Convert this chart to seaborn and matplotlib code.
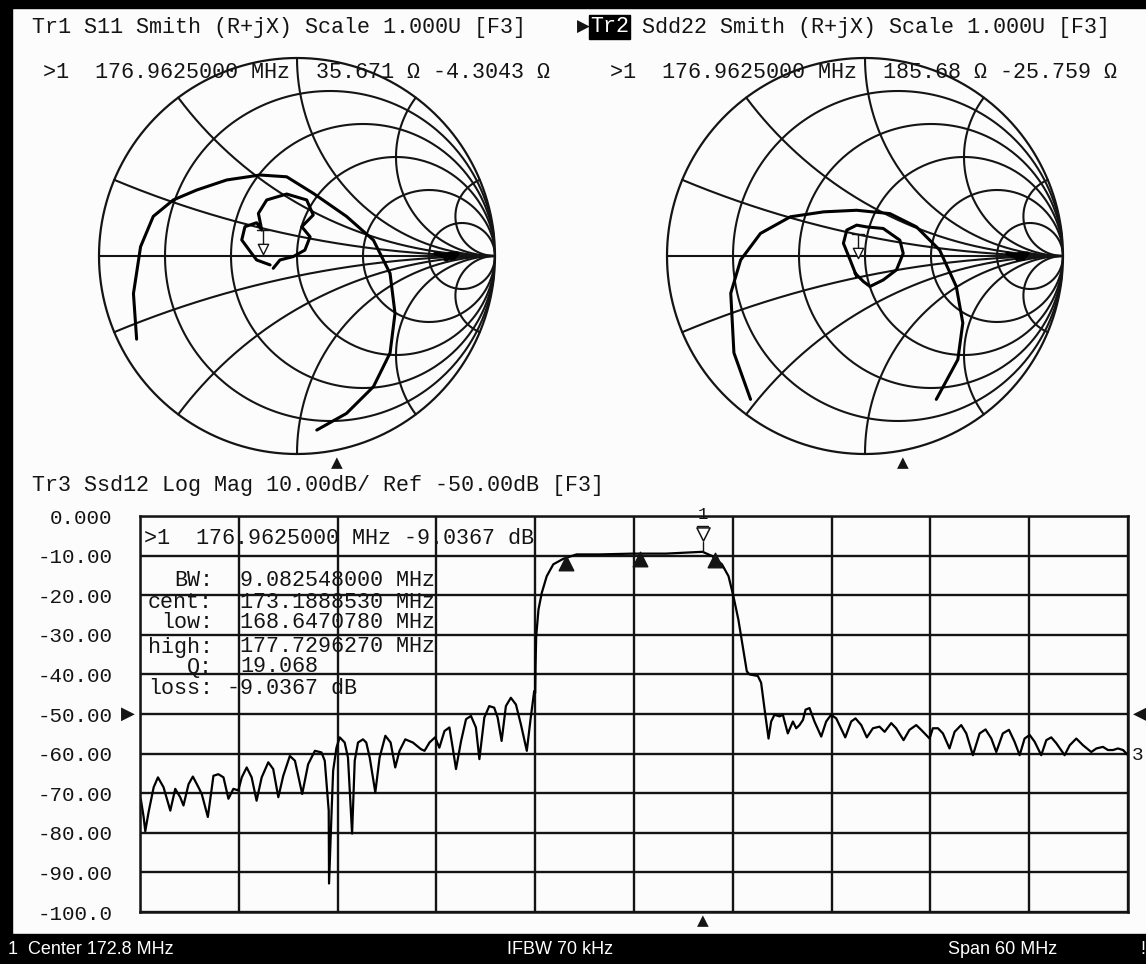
import numpy as np
import pandas as pd
import matplotlib
matplotlib.use("Agg")
import matplotlib.pyplot as plt
from matplotlib.patches import Rectangle
import seaborn as sns

# ---------------- data ----------------
center_mhz = 172.8
span_mhz = 60.0
ref_db = -50.0
db_ticks = [0, -10, -20, -30, -40, -50, -60, -70, -80, -90, -100]
db_tick_labels = ["0.000", "-10.00", "-20.00", "-30.00", "-40.00", "-50.00",
                  "-60.00", "-70.00", "-80.00", "-90.00", "-100.0"]

freq_mhz = [
    142.85, 143.02, 143.12, 143.32, 143.63, 143.89, 144.23, 144.64, 144.94, 145.24, 145.44,
    145.75, 146.01, 146.35, 146.55, 146.92, 147.26, 147.56, 147.87, 148.17, 148.47,
    148.77, 148.98, 149.28, 149.58, 149.88, 150.19, 150.59, 150.89, 151.20, 151.50,
    151.90, 152.21, 152.65, 153.01, 153.42, 153.82, 154.02, 154.26, 154.28, 154.43,
    154.53, 154.73, 154.93, 155.23, 155.43, 155.68, 155.84, 156.04, 156.34, 156.54,
    156.75, 157.09, 157.35, 157.70, 158.02, 158.30, 158.56, 158.91, 159.37, 159.87,
    160.08, 160.38, 160.72, 160.98, 161.29, 161.59, 161.79, 161.99, 162.30, 162.60,
    162.90, 163.20, 163.41, 163.71, 164.01, 164.31, 164.52, 164.76, 165.02, 165.32,
    165.63, 165.93, 166.29, 166.53, 166.74,
    166.80, 166.82, 166.86, 167.00, 167.20, 167.50, 167.90, 168.51, 169.31, 170.71,
    172.72, 174.73, 176.96, 177.54, 178.14, 178.54, 178.84, 179.14, 179.44, 179.65,
    179.81, 180.32, 180.52, 180.72, 180.97, 181.13, 181.33, 181.64, 181.84, 182.14,
    182.45, 182.65, 182.85, 183.06, 183.22, 183.46, 183.76, 184.17, 184.47, 184.77,
    185.08, 185.63, 185.99, 186.25, 186.60, 186.94, 187.31, 187.71, 188.02, 188.42,
    188.72, 189.17, 189.53, 189.94, 190.24, 190.75, 190.95, 191.26, 191.56, 191.96,
    192.27, 192.67, 192.98, 193.38, 193.79, 194.15, 194.50, 194.80, 195.20, 195.57,
    195.91, 196.22, 196.52, 196.83, 197.13, 197.53, 197.84, 198.14, 198.45, 198.95,
    199.26, 199.66, 200.07, 200.57, 200.88, 201.28, 201.58, 201.89, 202.19, 202.50,
    202.80]
ssd12_db = [
    -71.5, -76.0, -79.6, -74.8, -68.5, -66.0, -68.5, -74.4, -68.9, -71.0, -73.1,
    -67.7, -65.8, -68.5, -70.2, -76.0, -65.6, -65.2, -66.0, -71.4, -68.9,
    -69.3, -66.0, -63.5, -66.0, -71.9, -66.0, -62.2, -63.9, -71.0, -65.6,
    -60.6, -61.8, -70.2, -62.7, -59.3, -59.7, -61.8, -74.4, -92.8, -75.2,
    -64.3, -58.5, -55.9, -57.2, -61.0, -80.2, -61.8, -57.2, -56.4, -57.2,
    -61.0, -69.8, -61.0, -55.5, -57.2, -63.5, -59.3, -56.4, -57.2, -58.9,
    -59.3, -57.2, -55.9, -58.5, -54.3, -53.4, -58.5, -63.9, -56.8, -51.3,
    -50.5, -53.4, -61.4, -50.9, -48.0, -48.4, -50.9, -56.8, -48.0, -45.9,
    -47.6, -52.6, -59.3, -50.9, -44.2,
    -44.7, -38.0, -30.4, -23.6, -19.4, -15.2, -12.2, -10.8, -9.7, -9.7,
    -9.5, -9.5, -9.04, -10.1, -12.2, -15.2, -20.3, -26.2, -33.8, -39.2,
    -40.0, -40.4, -42.1, -48.5, -56.2, -51.9, -50.2, -50.6, -50.2, -54.9,
    -51.9, -53.6, -52.8, -51.5, -48.9, -48.5, -51.9, -55.7, -51.9, -50.2,
    -51.1, -55.9, -51.9, -51.1, -52.8, -55.9, -53.6, -53.2, -54.5, -52.3,
    -53.6, -56.6, -54.0, -52.8, -54.0, -56.2, -53.6, -53.6, -54.9, -58.7,
    -54.5, -52.8, -54.9, -60.4, -54.9, -53.9, -56.2, -59.6, -54.9, -54.0,
    -57.0, -60.4, -56.2, -55.3, -57.0, -60.4, -56.6, -55.9, -57.4, -60.4,
    -57.9, -56.2, -57.9, -59.6, -58.7, -58.3, -59.1, -59.1, -58.7, -59.1,
    -60.4]

marker_mhz = 176.9625
marker_db = -9.0367
bw_marker_mhz = [168.647078, 173.188853, 177.729627]
bw_marker_db = [-10.6, -9.6, -10.0]

# Smith chart traces (reflection coefficient, real / imaginary)
s11_arc_re = [-0.81, -0.826, -0.79, -0.726, -0.625, -0.507, -0.355, -0.187, -0.052,
              0.083, 0.25, 0.386, 0.47, 0.495, 0.47, 0.386, 0.25, 0.10]
s11_arc_im = [-0.42, -0.19, 0.047, 0.20, 0.283, 0.333, 0.384, 0.409, 0.40,
              0.316, 0.20, 0.08, -0.088, -0.29, -0.49, -0.66, -0.795, -0.879]
s11_loop_re = [-0.136, -0.204, -0.229, -0.279, -0.263, -0.204, -0.178, -0.195, -0.153,
               -0.052, 0.049, 0.082, 0.024, 0.066, 0.04, -0.019, -0.086, -0.12]
s11_loop_im = [-0.045, -0.02, 0.013, 0.081, 0.148, 0.168, 0.131, 0.215, 0.283,
               0.313, 0.283, 0.207, 0.148, 0.097, 0.03, -0.003, -0.02, -0.062]
s11_blob_re = [0.70, 0.79, 0.73, 0.81, 0.75, 0.80, 0.77]
s11_blob_im = [0.012, -0.01, 0.004, 0.012, -0.016, 0.0, 0.008]
s11_marker = (-0.17, 0.0)

sdd22_arc_re = [-0.578, -0.662, -0.678, -0.628, -0.528, -0.377, -0.209, -0.042, 0.126,
                0.26, 0.377, 0.461, 0.494, 0.469, 0.36]
sdd22_arc_im = [-0.724, -0.489, -0.188, -0.02, 0.114, 0.198, 0.223, 0.231, 0.214,
                0.147, 0.03, -0.154, -0.338, -0.523, -0.724]
sdd22_loop_re = [-0.042, -0.075, -0.109, -0.092, -0.042, 0.008, 0.092, 0.176, 0.193,
                 0.159, 0.092, 0.025, -0.008, -0.05]
sdd22_loop_im = [-0.104, -0.02, 0.064, 0.131, 0.156, 0.147, 0.139, 0.08, 0.013,
                 -0.07, -0.121, -0.154, -0.129, -0.087]
sdd22_blob_re = [0.72, 0.80, 0.75, 0.82, 0.77, 0.81, 0.78]
sdd22_blob_im = [0.012, -0.012, 0.004, 0.012, -0.016, 0.0, 0.008]
sdd22_marker = (-0.034, -0.02)

smith_r = [0.2, 0.5, 1.0, 2.0, 5.0]
smith_x = [0.2, 0.5, 1.0, 2.0, 5.0]

# ---------------- style ----------------
sns.set_theme(style="white")
MONO = ['Liberation Mono', 'DejaVu Sans Mono', 'DejaVu Sans']
plt.rcParams['font.family'] = MONO
INK = '#141414'
BG = '#fcfcfc'

W, H = 1146, 964
fig = plt.figure(figsize=(W / 100, H / 100), dpi=100)
fig.patch.set_facecolor(BG)


def fx(px):
    return px / W


def fy(py):
    return 1 - py / H


def txt(px, py, s, **kw):
    kw.setdefault('fontsize', 15.7)
    kw.setdefault('color', INK)
    kw.setdefault('va', 'center')
    kw.setdefault('ha', 'left')
    kw.setdefault('family', MONO)
    fig.text(fx(px), fy(py), s, **kw)


# ---------------- Smith charts ----------------
def smith_grid(ax):
    t = np.linspace(0, 2 * np.pi, 721)
    ax.plot(np.cos(t), np.sin(t), color=INK, lw=1.6, clip_on=False)
    ax.plot([-1, 1], [0, 0], color=INK, lw=1.5)
    xs = np.concatenate([-np.logspace(3, -3, 400), [0], np.logspace(-3, 3, 400)])
    for r in smith_r:
        z = r + 1j * xs
        g = (z - 1) / (z + 1)
        ax.plot(g.real, g.imag, color=INK, lw=1.5)
    rs = np.concatenate([[0], np.logspace(-3, 3.5, 600)])
    for x in smith_x:
        for sgn in (1, -1):
            z = rs + 1j * sgn * x
            g = (z - 1) / (z + 1)
            ax.plot(g.real, g.imag, color=INK, lw=1.5)
    ax.set_xlim(-1, 1)
    ax.set_ylim(-1, 1)
    ax.set_aspect('equal')
    ax.axis('off')


def smith_trace(ax, re, im, lw=2.2):
    d = pd.DataFrame({'re': re, 'im': im})
    sns.lineplot(data=d, x='re', y='im', sort=False, estimator=None,
                 color='black', lw=lw, ax=ax)


def smith_marker(ax, pt):
    ax.plot([pt[0], pt[0]], [pt[1] + 0.05, pt[1] + 0.13], color=INK, lw=1.0)
    ax.plot([pt[0] - 0.03, pt[0] + 0.03], [pt[1] + 0.13, pt[1] + 0.13], color=INK, lw=1.0)
    ax.scatter([pt[0]], [pt[1] + 0.035], marker='v', s=55, facecolors='white',
               edgecolors=INK, linewidths=1.0, zorder=5)


R = 198
for cx, re_a, im_a, re_l, im_l, re_b, im_b, mk in [
        (297, s11_arc_re, s11_arc_im, s11_loop_re, s11_loop_im,
         s11_blob_re, s11_blob_im, s11_marker),
        (865, sdd22_arc_re, sdd22_arc_im, sdd22_loop_re, sdd22_loop_im,
         sdd22_blob_re, sdd22_blob_im, sdd22_marker)]:
    ax = fig.add_axes([fx(cx - R), fy(256 + R), 2 * R / W, 2 * R / H])
    ax.set_facecolor('none')
    smith_grid(ax)
    smith_trace(ax, re_a, im_a)
    smith_trace(ax, re_l, im_l)
    smith_trace(ax, re_b, im_b, lw=3.2)
    smith_marker(ax, mk)

# stimulus marker triangles under the Smith charts
for px in (337, 903):
    fig.text(fx(px), fy(463), '\u25B2', fontsize=11, color=INK, ha='center', va='center',
             family=['DejaVu Sans'])

# ---------------- Log Mag ----------------
L, T, Rr, B = 140, 516, 1128, 912
ax3 = fig.add_axes([fx(L), fy(B), (Rr - L) / W, (B - T) / H])
ax3.set_facecolor('none')
df = pd.DataFrame({'freq': freq_mhz, 'db': ssd12_db})
sns.lineplot(data=df, x='freq', y='db', sort=False, estimator=None,
             color='black', lw=1.6, ax=ax3)
fstart = center_mhz - span_mhz / 2
fstop = center_mhz + span_mhz / 2
ax3.set_xlim(fstart, fstop)
ax3.set_ylim(-100, 0)
ax3.set_xticks(np.linspace(fstart, fstop, 11))
ax3.set_xticklabels([])
ax3.set_yticks(db_ticks)
ax3.set_yticklabels(db_tick_labels)
ax3.grid(True, color=INK, lw=1.7)
ax3.set_axisbelow(True)
ax3.tick_params(axis='both', length=0)
ax3.tick_params(axis='y', pad=20, labelsize=15.0, labelcolor=INK)
ax3.set_xlabel('')
ax3.set_ylabel('')
for s in ax3.spines.values():
    s.set_color(INK)
    s.set_linewidth(1.8)

# BW markers
ax3.scatter(bw_marker_mhz, [d - 1.2 for d in bw_marker_db], marker='^', s=110,
            color=INK, zorder=6)
# active marker 1
ax3.plot([marker_mhz, marker_mhz], [marker_db, marker_db + 2.4], color=INK, lw=1.0)
ax3.scatter([marker_mhz], [marker_db + 4.6], marker='v', s=90, facecolors='white',
            edgecolors=INK, linewidths=1.1, zorder=7)
ax3.plot([marker_mhz - 0.35, marker_mhz + 0.35], [marker_db + 6.6, marker_db + 6.6],
         color=INK, lw=1.0)
ax3.text(marker_mhz, 0.3, '1', ha='center', va='center', fontsize=12.5, color=INK,
         clip_on=False)

# reference position triangles and trace number
ax3.text(-0.012, (ref_db + 100) / 100, '\u25B6', transform=ax3.transAxes, ha='center',
         va='center', fontsize=13, color=INK, family=['DejaVu Sans'])
ax3.text(1.012, (ref_db + 100) / 100, '\u25C0', transform=ax3.transAxes, ha='center',
         va='center', fontsize=13, color=INK, family=['DejaVu Sans'])
ax3.text(1.004, (ssd12_db[-1] + 100) / 100, '3', transform=ax3.transAxes, ha='left',
         va='center', fontsize=14, color=INK)
ax3.text((marker_mhz - fstart) / span_mhz, -0.022, '\u25B2', transform=ax3.transAxes,
         ha='center', va='center', fontsize=11, color=INK, family=['DejaVu Sans'])

# ---------------- texts ----------------
txt(32, 27, 'Tr1 S11 Smith (R+jX) Scale 1.000U [F3]')
txt(577, 27, '\u25B6', family=['DejaVu Sans'], fontsize=12)
txt(590, 27, 'Tr2', color='white',
    bbox=dict(boxstyle='square,pad=0.05', fc='black', ec='black'))
txt(590 + 3 * 13.1, 27, ' Sdd22 Smith (R+jX) Scale 1.000U [F3]')
txt(43, 72, '>1  176.9625000 MHz  35.671 \u03A9 -4.3043 \u03A9')
txt(610, 72, '>1  176.9625000 MHz  185.68 \u03A9 -25.759 \u03A9')
txt(32, 486, 'Tr3 Ssd12 Log Mag 10.00dB/ Ref -50.00dB [F3]')

txt(144, 538, '>1  176.9625000 MHz -9.0367 dB')
labels = ['BW:', 'cent:', 'low:', 'high:', 'Q:', 'loss:']
values = ['9.082548000 MHz', '173.1888530 MHz', '168.6470780 MHz',
          '177.7296270 MHz', '19.068', '-9.0367 dB']
rows_y = [580, 603, 623, 647, 667, 689]
for lab, val, yy in zip(labels, values, rows_y):
    txt(213, yy, lab, ha='right')
    xv = 240 - (13.1 if val.startswith('-') else 0)
    txt(xv, yy, val)

# ---------------- frame ----------------
fig.add_artist(Rectangle((0, fy(8)), 1, fy(0) - fy(8), transform=fig.transFigure,
                         color='black', zorder=10))
fig.add_artist(Rectangle((0, 0), fx(12), 1, transform=fig.transFigure,
                         color='black', zorder=10))
fig.add_artist(Rectangle((0, 0), 1, fy(934), transform=fig.transFigure,
                         color='black', zorder=10))
SANS = ['Liberation Sans', 'DejaVu Sans']
for px, s in [(8, '1  Center 172.8 MHz'), (507, 'IFBW 70 kHz'),
              (948, 'Span 60 MHz'), (1140, '!')]:
    fig.text(fx(px), fy(950), s, color='white', fontsize=13, family=SANS,
             ha='left', va='center', zorder=11)

fig.savefig('out.png', dpi=100, facecolor=fig.get_facecolor())
